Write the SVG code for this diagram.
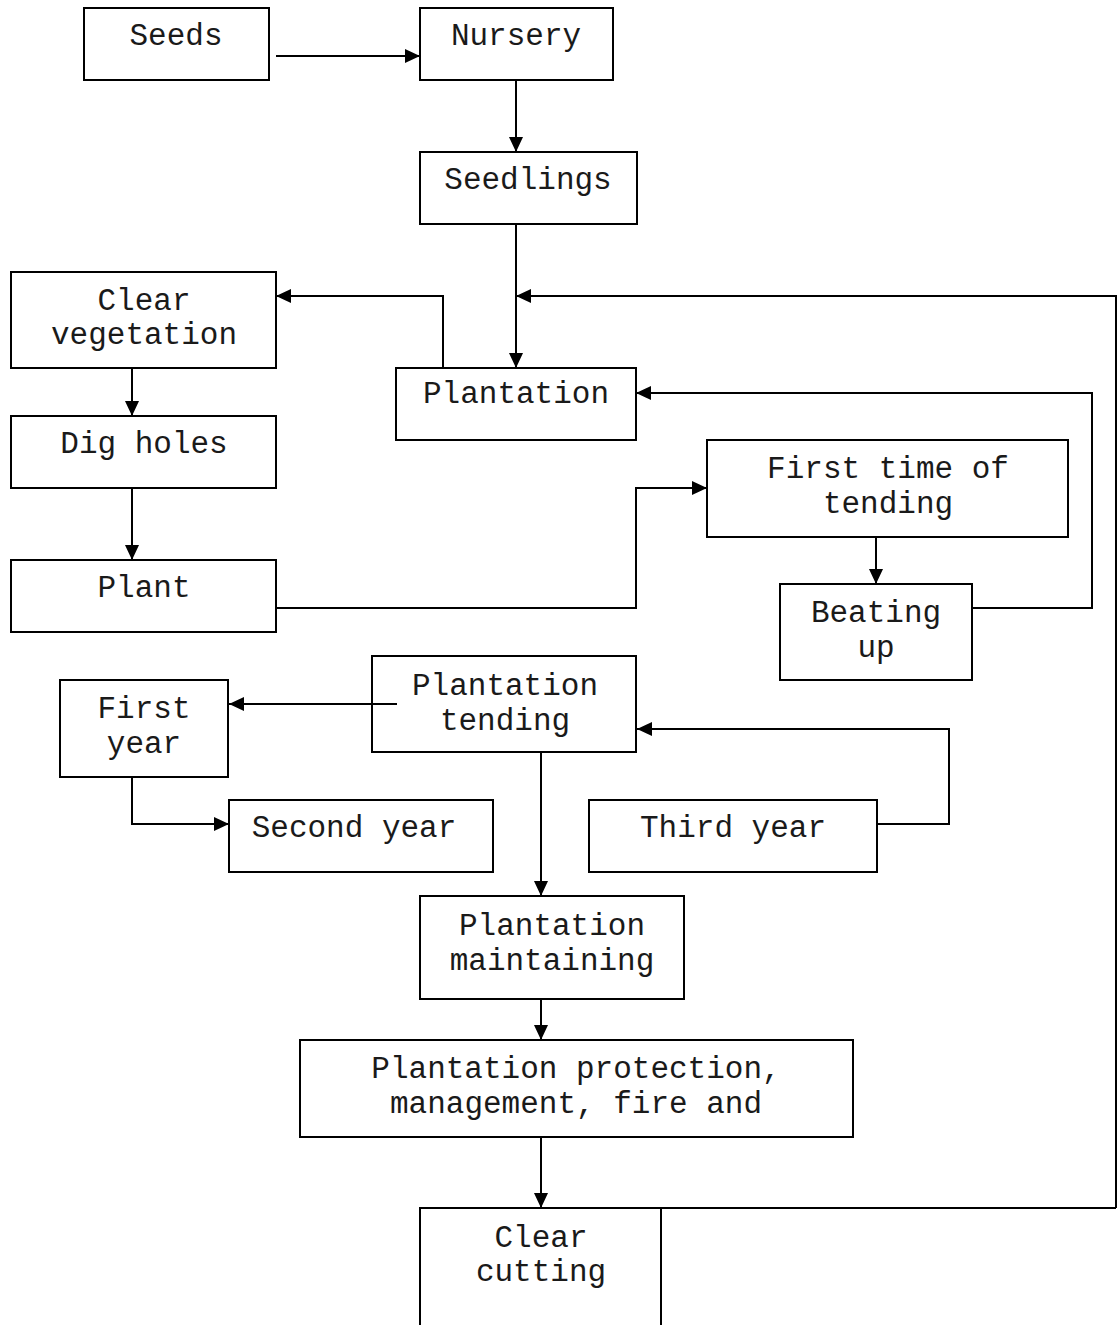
<svg xmlns="http://www.w3.org/2000/svg" width="1119" height="1325" viewBox="0 0 1119 1325">
  <style>
    .box { fill: none; stroke: #000000; stroke-width: 2; }
    .lbl { font-family: "Liberation Mono", "Courier New", monospace; font-size: 31px; fill: #1a1a1a; text-anchor: middle; }
    .wire { fill: none; stroke: #000000; stroke-width: 2; }
  </style>
  <defs>
    <marker id="arrow" markerUnits="userSpaceOnUse" markerWidth="16" markerHeight="14" refX="15" refY="7" orient="auto">
      <path d="M0,0 L15,7 L0,14 z" fill="#000000"/>
    </marker>
  </defs>
  <rect width="1119" height="1325" fill="#ffffff"/>

  <!-- connectors -->
  <g id="connectors" class="wire" marker-end="url(#arrow)">
    <path d="M276,56 H420"/>
    <path d="M516,80 V152"/>
    <path d="M516,224 V368"/>
    <path d="M443,368 V296 H276"/>
    <path d="M1116,1208 V296 H516"/>
    <path d="M132,368 V416"/>
    <path d="M132,488 V560"/>
    <path d="M276,608 H636 V488 H707"/>
    <path d="M876,537 V584"/>
    <path d="M972,608 H1092 V393 H636"/>
    <path d="M397,704 H229"/>
    <path d="M132,777 V824 H229"/>
    <path d="M877,824 H949 V729 H637"/>
    <path d="M541,752 V896"/>
    <path d="M541,999 V1040"/>
    <path d="M541,1137 V1208"/>
    <path d="M661,1208 H1116" marker-end="none"/>
  </g>

  <!-- nodes -->
  <g id="seeds">
    <rect class="box" x="84" y="8" width="185" height="72"/>
    <text class="lbl" x="176" y="45">Seeds</text>
  </g>
  <g id="nursery">
    <rect class="box" x="420" y="8" width="193" height="72"/>
    <text class="lbl" x="516" y="45">Nursery</text>
  </g>
  <g id="seedlings">
    <rect class="box" x="420" y="152" width="217" height="72"/>
    <text class="lbl" x="528" y="189">Seedlings</text>
  </g>
  <g id="clear-vegetation">
    <rect class="box" x="11" y="272" width="265" height="96"/>
    <text class="lbl" x="144" y="310">Clear</text>
    <text class="lbl" x="144" y="344">vegetation</text>
  </g>
  <g id="plantation">
    <rect class="box" x="396" y="368" width="240" height="72"/>
    <text class="lbl" x="516" y="403">Plantation</text>
  </g>
  <g id="dig-holes">
    <rect class="box" x="11" y="416" width="265" height="72"/>
    <text class="lbl" x="144" y="453">Dig holes</text>
  </g>
  <g id="plant">
    <rect class="box" x="11" y="560" width="265" height="72"/>
    <text class="lbl" x="144" y="597">Plant</text>
  </g>
  <g id="first-tending">
    <rect class="box" x="707" y="440" width="361" height="97"/>
    <text class="lbl" x="888" y="478">First time of</text>
    <text class="lbl" x="888" y="513">tending</text>
  </g>
  <g id="beating-up">
    <rect class="box" x="780" y="584" width="192" height="96"/>
    <text class="lbl" x="876" y="622">Beating</text>
    <text class="lbl" x="876" y="657">up</text>
  </g>
  <g id="plantation-tending">
    <rect class="box" x="372" y="656" width="264" height="96"/>
    <text class="lbl" x="505" y="695">Plantation</text>
    <text class="lbl" x="505" y="730">tending</text>
  </g>
  <g id="first-year">
    <rect class="box" x="60" y="680" width="168" height="97"/>
    <text class="lbl" x="144" y="718">First</text>
    <text class="lbl" x="144" y="753">year</text>
  </g>
  <g id="second-year">
    <rect class="box" x="229" y="800" width="264" height="72"/>
    <text class="lbl" x="354" y="837">Second year</text>
  </g>
  <g id="third-year">
    <rect class="box" x="589" y="800" width="288" height="72"/>
    <text class="lbl" x="733" y="837">Third year</text>
  </g>
  <g id="plantation-maintaining">
    <rect class="box" x="420" y="896" width="264" height="103"/>
    <text class="lbl" x="552" y="935">Plantation</text>
    <text class="lbl" x="552" y="970">maintaining</text>
  </g>
  <g id="plantation-protection">
    <rect class="box" x="300" y="1040" width="553" height="97"/>
    <text class="lbl" x="576" y="1078">Plantation protection,</text>
    <text class="lbl" x="576" y="1113">management, fire and</text>
  </g>
  <g id="clear-cutting">
    <rect class="box" x="420" y="1208" width="241" height="140"/>
    <text class="lbl" x="541" y="1247">Clear</text>
    <text class="lbl" x="541" y="1281">cutting</text>
  </g>
</svg>
